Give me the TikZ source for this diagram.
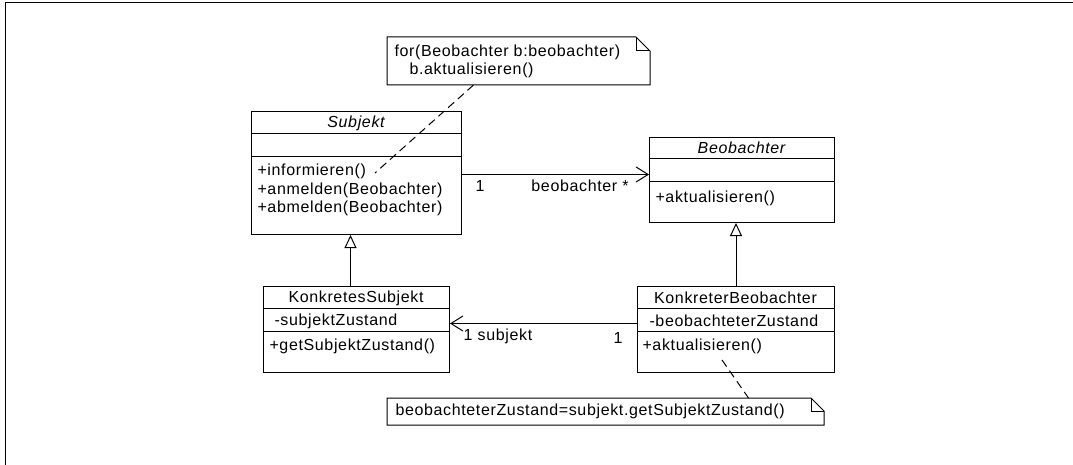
\documentclass[tikz,border=0pt]{standalone}
\usepackage{fontspec}
\setmainfont{Liberation Sans}[LetterSpace=4]
\usetikzlibrary{arrows.meta}
\tikzset{
 cls/.style={draw, anchor=north west, inner sep=0pt},
 notebox/.style={anchor=north west, inner sep=0pt},
 txt/.style={anchor=west, inner sep=0pt},
 ctxt/.style={inner sep=0pt},
 assoc/.style={-{Straight Barb[length=12pt,width=15pt]}},
 inherit/.style={-{Triangle[open,fill=white,length=13pt,width=12pt]}},
 notelink/.style={dash pattern=on 8pt off 5pt},
}

\begin{document}
\begin{tikzpicture}[x=1pt,y=-1pt,line width=1pt,font=\fontsize{16}{18}\selectfont]
 \useasboundingbox (0,0) rectangle (1073,465);
 \draw (5,465) -- (5,3) -- (1073,3);

 \node[cls, minimum width=210pt, minimum height=123pt] (subj) at (251,111) {};
 \draw ([yshift=-23pt]subj.north west) -- ([yshift=-23pt]subj.north east);
 \draw ([yshift=-46pt]subj.north west) -- ([yshift=-46pt]subj.north east);
 \node[ctxt] (subjname) at (356,123) {\itshape Subjekt};
 \node[txt] (informieren) at (257,171) {+informieren()};
 \node[txt] (anmelden) at (257,190) {+anmelden(Beobachter)};
 \node[txt] (abmelden) at (257,208) {+abmelden(Beobachter)};

 \node[cls, minimum width=185pt, minimum height=85pt] (beob) at (649,137) {};
 \draw ([yshift=-22pt]beob.north west) -- ([yshift=-22pt]beob.north east);
 \draw ([yshift=-45pt]beob.north west) -- ([yshift=-45pt]beob.north east);
 \node[ctxt] (beobname) at (741.5,148) {\itshape Beobachter};
 \node[txt] (aktB) at (655,198) {+aktualisieren()};

 \node[cls, minimum width=186pt, minimum height=86pt] (ks) at (263,286) {};
 \draw ([yshift=-22pt]ks.north west) -- ([yshift=-22pt]ks.north east);
 \draw ([yshift=-45pt]ks.north west) -- ([yshift=-45pt]ks.north east);
 \node[ctxt] (ksname) at (356,298) {KonkretesSubjekt};
 \node[txt] (zustS) at (274,321) {-subjektZustand};
 \node[txt] (getZ) at (269,346) {+getSubjektZustand()};

 \node[cls, minimum width=197pt, minimum height=86pt] (kb) at (637,286) {};
 \draw ([yshift=-22pt]kb.north west) -- ([yshift=-22pt]kb.north east);
 \draw ([yshift=-45pt]kb.north west) -- ([yshift=-45pt]kb.north east);
 \node[ctxt] (kbname) at (735.5,298) {KonkreterBeobachter};
 \node[txt] (zustB) at (649,321) {-beobachteterZustand};
 \node[txt] (aktK) at (642,346) {+aktualisieren()};

 \node[notebox, minimum width=262pt, minimum height=47pt] (note1) at (387,37) {};
 \draw (note1.north west) -- ([xshift=-14pt]note1.north east) -- ([yshift=-14pt]note1.north east)
   -- (note1.south east) -- (note1.south west) -- cycle;
 \draw ([xshift=-14pt]note1.north east) |- ([yshift=-14pt]note1.north east);
 \node[txt] (forloop) at (394,52) {for(Beobachter b:beobachter)};
 \node[txt] (aufruf) at (409,70) {b.aktualisieren()};

 \node[notebox, minimum width=436pt, minimum height=26pt] (note2) at (387,398) {};
 \draw (note2.north west) -- ([xshift=-13pt]note2.north east) -- ([yshift=-13pt]note2.north east)
   -- (note2.south east) -- (note2.south west) -- cycle;
 \draw ([xshift=-13pt]note2.north east) |- ([yshift=-13pt]note2.north east);
 \node[txt] (zuweisung) at (395,411) {beobachteterZustand=subjekt.getSubjektZustand()};

 \draw[assoc] ([yshift=-1.5pt]subj.east) -- ([yshift=-1.5pt]subj.east -| beob.west);
 \node[ctxt] (mult1) at (480,186) {1};
 \node[ctxt] (rolle1) at (580,186) {beobachter *};

 \draw[assoc] ([yshift=6pt]kb.west) -- ([yshift=6pt]ks.east);
 \node[ctxt] (rolle2) at (498,336) {1 subjekt};
 \node[ctxt] (mult2) at (618,338) {1};

 \draw[inherit] ([xshift=-6pt]ks.north) -- ([xshift=-6pt]ks.north |- subj.south);
 \draw[inherit] (kb.north) -- (kb.north |- beob.south);

 \coordinate (infend) at (375,173);
 \draw[notelink] ([xshift=-45pt]note1.south) -- (infend);
 \coordinate (kbend) at (722,360);
 \draw[notelink] (kbend) -- ([xshift=143pt]note2.north);
\end{tikzpicture}
\end{document}
